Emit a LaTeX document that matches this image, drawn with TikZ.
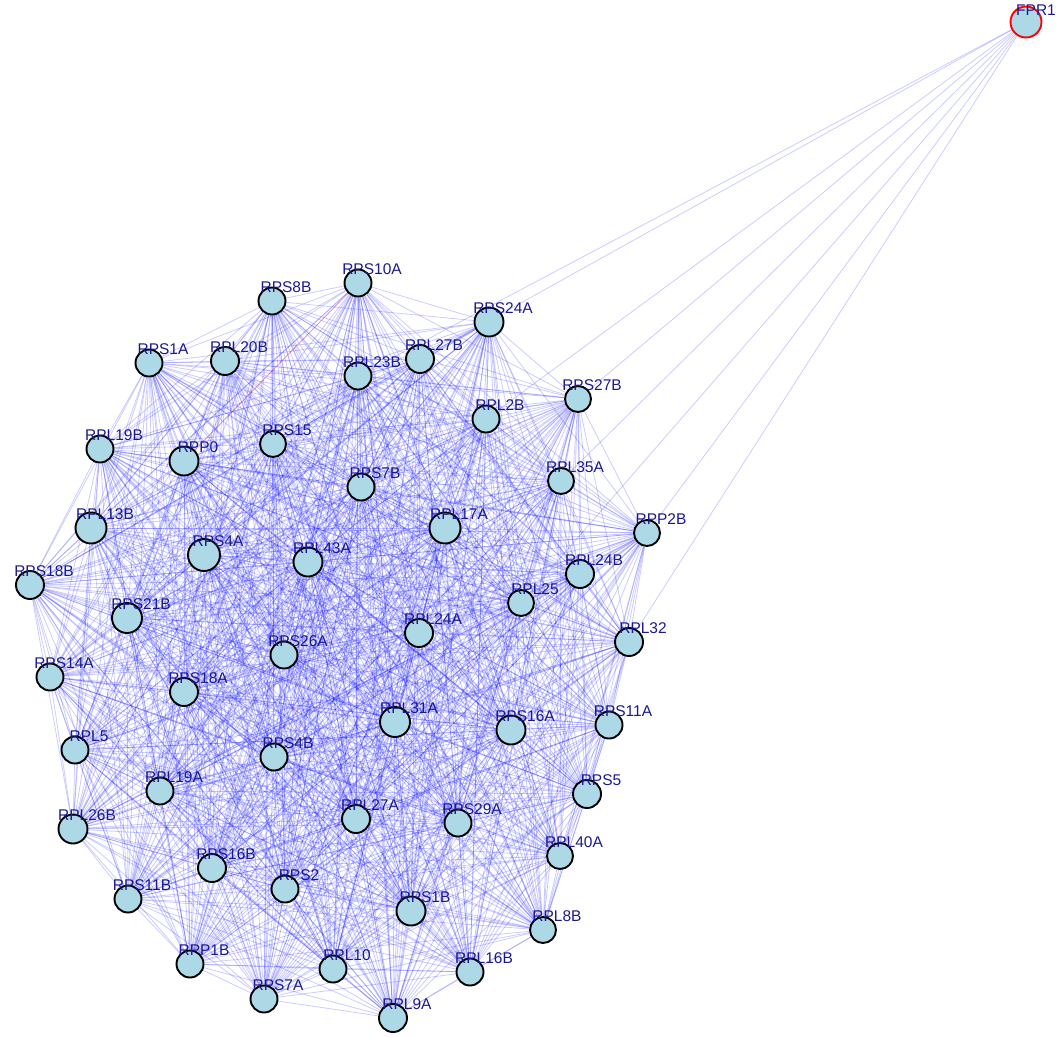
\documentclass[tikz,border=0pt]{standalone}
\usepackage{fontspec}
\setmainfont{Liberation Sans}
\usetikzlibrary{backgrounds}
\definecolor{ribFill}{HTML}{ADD8E6}
\definecolor{ribLabel}{HTML}{1A1A8C}
\definecolor{ribEdge}{HTML}{0000FF}
\definecolor{ribOdd}{HTML}{FF0000}
\newcommand{\ribnodes}{RPS10A,RPS8B,RPS24A,RPS1A,RPL20B,RPL27B,RPL23B,RPS27B,RPL2B,RPL19B,RPP0,RPS15,RPS7B,RPL35A,RPL13B,RPL17A,RPP2B,RPS4A,RPL43A,RPS18B,RPL24B,RPL25,RPS21B,RPL24A,RPS26A,RPL32,RPS14A,RPS18A,RPL31A,RPS16A,RPS11A,RPL5,RPS4B,RPL19A,RPS5,RPL26B,RPL27A,RPS29A,RPL40A,RPS16B,RPS2,RPS11B,RPS1B,RPL8B,RPP1B,RPL10,RPL16B,RPS7A,RPL9A}

\begin{document}
\begin{tikzpicture}[x=1bp,y=-1bp]
\tikzset{
  g/.style={circle, draw=black, line width=1.9bp, fill=ribFill, minimum size=#1bp, inner sep=0pt,
            label={[lab]center:\tikzlastnode}},
  g/.default=27,
  lab/.style={text=ribLabel, font=\fontsize{15.5bp}{18bp}\selectfont, inner sep=0pt,
              xshift=14bp, yshift=14bp},
  ed/.style={draw=ribEdge, line width=0.8bp, draw opacity=0.2},
  edr/.style={draw=ribOdd, line width=0.8bp, draw opacity=0.25}
}
\useasboundingbox (0,0) rectangle (1056,1037);

% Seed node
\node[circle, draw=ribOdd, line width=1.9bp, fill=ribFill, minimum size=31bp, inner sep=0pt,
      label={[lab, xshift=-4bp, yshift=-2bp]center:FPR1}] (FPR1) at (1026,22) {};

% Ribosomal proteins
\node[g] (RPS10A) at (358,283) {};
\node[g] (RPS8B) at (272,301) {};
\node[g=29] (RPS24A) at (489,322) {};
\node[g] (RPS1A) at (149,363) {};
\node[g=28] (RPL20B) at (225,361) {};
\node[g=28] (RPL27B) at (420,359) {};
\node[g] (RPL23B) at (358,376) {};
\node[g=26] (RPS27B) at (578,399) {};
\node[g] (RPL2B) at (486,419) {};
\node[g] (RPL19B) at (100,449) {};
\node[g=29] (RPP0) at (184,461) {};
\node[g=26] (RPS15) at (273,444) {};
\node[g] (RPS7B) at (361,487) {};
\node[g=26] (RPL35A) at (561,481) {};
\node[g=31] (RPL13B) at (91,528) {};
\node[g=31] (RPL17A) at (445,528) {};
\node[g=26] (RPP2B) at (647,533) {};
\node[g=32] (RPS4A) at (204,555) {};
\node[g=29] (RPL43A) at (308,562) {};
\node[g=28] (RPS18B) at (30,585) {};
\node[g=28] (RPL24B) at (580,574) {};
\node[g=26] (RPL25) at (521,603) {};
\node[g=30] (RPS21B) at (127,618) {};
\node[g=28] (RPL24A) at (419,633) {};
\node[g] (RPS26A) at (284,655) {};
\node[g=28] (RPL32) at (629,642) {};
\node[g] (RPS14A) at (50,677) {};
\node[g=28] (RPS18A) at (184,692) {};
\node[g=30] (RPL31A) at (395,722) {};
\node[g=29] (RPS16A) at (511,730) {};
\node[g] (RPS11A) at (609,725) {};
\node[g] (RPL5) at (75,750) {};
\node[g] (RPS4B) at (274,757) {};
\node[g] (RPL19A) at (160,791) {};
\node[g=28] (RPS5) at (587,794) {};
\node[g=29] (RPL26B) at (73,829) {};
\node[g=28] (RPL27A) at (356,819) {};
\node[g] (RPS29A) at (458,823) {};
\node[g=26] (RPL40A) at (560,856) {};
\node[g=28] (RPS16B) at (212,868) {};
\node[g] (RPS2) at (285,889) {};
\node[g] (RPS11B) at (128,899) {};
\node[g=29] (RPS1B) at (411,911) {};
\node[g=26] (RPL8B) at (543,930) {};
\node[g] (RPP1B) at (190,964) {};
\node[g] (RPL10) at (333,969) {};
\node[g] (RPL16B) at (470,972) {};
\node[g] (RPS7A) at (264,999) {};
\node[g=28] (RPL9A) at (393,1018) {};

\begin{scope}[on background layer]
% Dense core: every pair
\foreach \a [count=\i] in \ribnodes {
  \foreach \b [count=\j] in \ribnodes {
    \ifnum\j>\i \draw[ed] (\a) -- (\b); \fi
  }
}
% Odd one out
\draw[edr] (RPP0) -- (RPS10A);
% Seed links
\foreach \t in {RPL23B,RPL27B,RPL2B,RPS27B,RPL35A,RPL25,RPP2B,RPL32}
  \draw[ed] (FPR1) -- (\t);
\end{scope}
\end{tikzpicture}
\end{document}
